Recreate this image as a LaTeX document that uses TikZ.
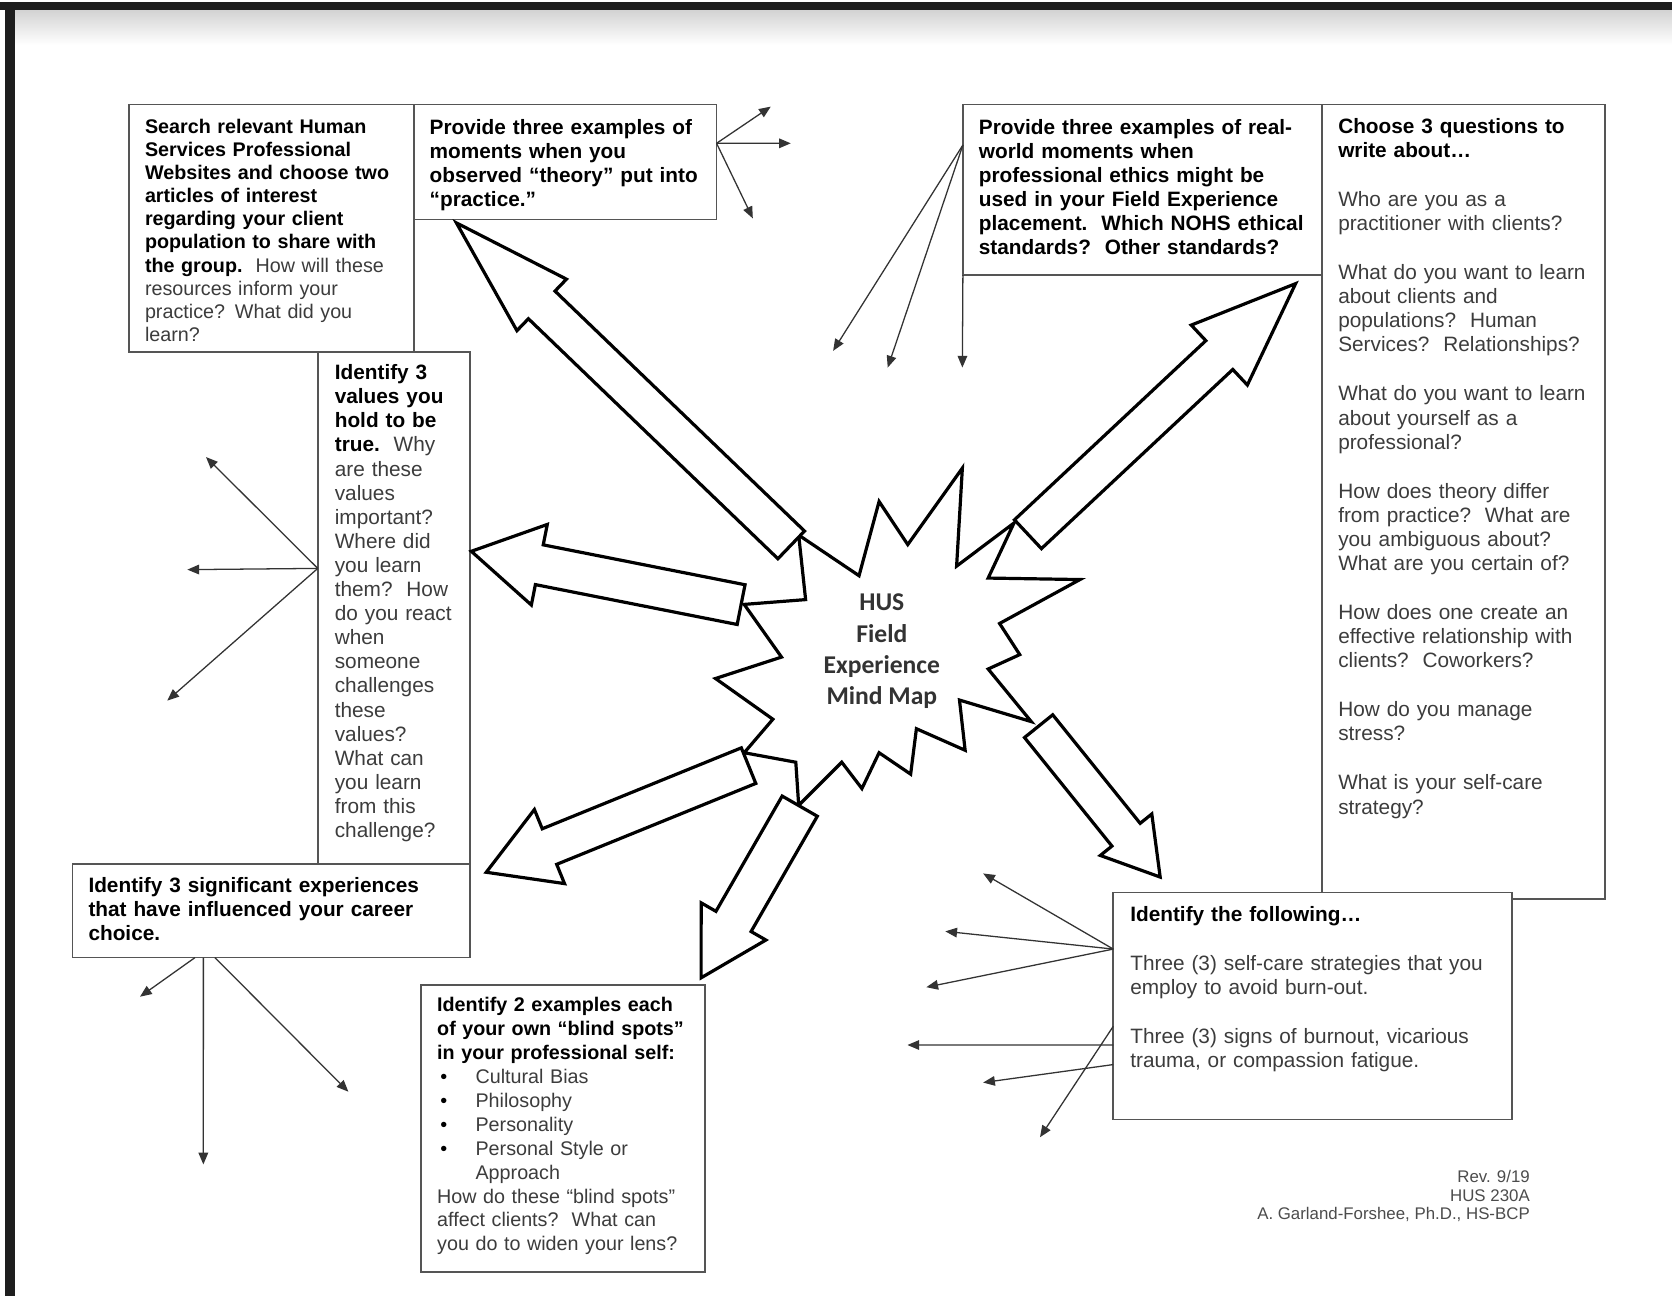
\documentclass[tikz,border=0pt]{standalone}
\usepackage{fontspec}
\setmainfont{Liberation Sans}
\newfontfamily\calibri{Carlito}
\usetikzlibrary{calc,arrows.meta}
\definecolor{txtgray}{HTML}{3C3C3C}
\definecolor{boxgray}{HTML}{555555}
\definecolor{linegray}{HTML}{333333}
\definecolor{framedark}{HTML}{1E1E1E}
\newcommand\fontA{\fontsize{9.25}{10.85}\selectfont}
\newcommand\fontB{\fontsize{9.75}{11.3}\selectfont}
\newcommand\fontE{\fontsize{9.25}{11.2}\selectfont}
\newcommand\bul{\makebox[18pt][l]{\hspace{1.5pt}\textcolor{black}{•}}}
\newcommand\blockarrow[5]{%
  \coordinate (ba-n) at ($(#2)!#5!(#1)$);
  \draw[bigarrow] ($(#1)!#3!90:(#2)$) -- ($(ba-n)!#3!90:(#2)$) -- ($(ba-n)!#4!90:(#2)$) -- (#2)
     -- ($(ba-n)!#4!-90:(#2)$) -- ($(ba-n)!#3!-90:(#2)$) -- ($(#1)!#3!-90:(#2)$) -- cycle;
}
\begin{document}
\begin{tikzpicture}[x=0.5pt,y=-0.5pt,
  box/.style={draw=boxgray, line width=0.75pt, fill=white, inner sep=0pt, outer sep=0pt, anchor=north west},
  txt/.style={anchor=base west, inner sep=0pt, outer sep=0pt, align=left, text=txtgray, font=\fontB},
  bigarrow/.style={draw=black, line width=1.5pt, fill=white, line join=miter, miter limit=10},
  thin/.style={draw=linegray, line width=0.6pt, -{Triangle[length=5.5pt,width=4.5pt]}},
  starstyle/.style={draw=black, line width=1.5pt, fill=white, line join=miter, miter limit=20}]
% page
\fill[white] (0,0) rectangle (1568,1215);
\useasboundingbox (0,0) rectangle (1568,1215);
\shade[top color=gray!35, bottom color=white] (14,9) rectangle (1568,42);
\fill[framedark] (0,2) rectangle (1568,9);
\fill[framedark] (5,2) rectangle (14,1215);

% boxes
\node[box, minimum width=133.5pt, minimum height=116pt] (A) at (121,98) {};
\node[box, minimum width=142pt, minimum height=54pt] (B) at (388,98) {};
\node[box, minimum width=71.5pt, minimum height=240pt] (C) at (298,330) {};
\node[box, minimum width=186.5pt, minimum height=44pt] (D) at (68,810) {};
\node[box, minimum width=133pt, minimum height=134.5pt] (E) at (395,924) {};
\node[box, minimum width=168.5pt, minimum height=80pt] (F) at (903,98) {};
\node[box, minimum width=132.5pt, minimum height=372.5pt] (G) at (1240,98) {};
\node[box, minimum width=187pt, minimum height=106.5pt] (H) at (1044,837) {};

% texts
\node[txt, font=\fontA, text width=140pt] (tA) at (136,125) {{\bfseries\color{black}Search relevant Human\\ Services Professional\\ Websites and choose two\\ articles of interest\\ regarding your client\\ population to share with\\ the group.}\ \ How will these\\ resources inform your\\ practice? What did you\\ learn?};
\node[txt, text width=150pt] (tB) at (403,126) {{\bfseries\color{black}Provide three examples of\\ moments when you\\ observed “theory” put into\\ “practice.”}};
\node[txt, text width=80pt] (tC) at (314,356) {{\bfseries\color{black}Identify 3\\ values you\\ hold to be\\ true.}\ \ Why\\ are these\\ values\\ important?\\ Where did\\ you learn\\ them?\ \ How\\ do you react\\ when\\ someone\\ challenges\\ these\\ values?\\ What can\\ you learn\\ from this\\ challenge?};
\node[txt, text width=190pt] (tD) at (83,837) {{\bfseries\color{black}Identify 3 significant experiences\\ that have influenced your career\\ choice.}};
\node[txt, font=\fontE, text width=140pt] (tE) at (410,949) {{\bfseries\color{black}Identify 2 examples each\\ of your own “blind spots”\\ in your professional self:}\\ \bul Cultural Bias\\ \bul Philosophy\\ \bul Personality\\ \bul Personal Style or\\ \hspace*{18pt}Approach\\ How do these “blind spots”\\ affect clients?\ \ What can\\ you do to widen your lens?};
\node[txt, text width=175pt] (tF) at (918,126) {{\bfseries\color{black}Provide three examples of real-\\ world moments when\\ professional ethics might be\\ used in your Field Experience\\ placement.\ \ Which NOHS ethical\\ standards?\ \ Other standards?}};
\node[txt, text width=140pt] (tG) at (1255,125) {{\bfseries\color{black}Choose 3 questions to\\ write about…}\\[11.7pt]
Who are you as a\\ practitioner with clients?\\[11.7pt]
What do you want to learn\\ about clients and\\ populations?\ \ Human\\ Services?\ \ Relationships?\\[11.7pt]
What do you want to learn\\ about yourself as a\\ professional?\\[11.7pt]
How does theory differ\\ from practice?\ \ What are\\ you ambiguous about?\\ What are you certain of?\\[11.7pt]
How does one create an\\ effective relationship with\\ clients?\ \ Coworkers?\\[11.7pt]
How do you manage\\ stress?\\[11.7pt]
What is your self-care\\ strategy?};
\node[txt, text width=190pt] (tH) at (1060,864) {{\bfseries\color{black}Identify the following…}\\[11.7pt]
Three (3) self-care strategies that you\\ employ to avoid burn-out.\\[11.7pt]
Three (3) signs of burnout, vicarious\\ trauma, or compassion fatigue.};
\node[anchor=north east, align=right, inner sep=0pt, font=\fontsize{7.9}{8.75}\selectfont, text=black!70] (foot) at (1435,1097) {Rev. 9/19\\HUS 230A\\A. Garland-Forshee, Ph.D., HS-BCP};

% star
\draw[starstyle] (902.5,439) -- (897.1,530.9) -- (950.9,490.5) -- (926.7,542.1) -- (1012.8,543.5)
  -- (937.4,584.7) -- (956.3,613.9) -- (926.7,627.4) -- (967.1,676.7) -- (899.8,656.5)
  -- (905.1,703.6) -- (859.4,683.4) -- (854,726) -- (824.4,705.9) -- (808.3,739.5)
  -- (789.4,714.8) -- (749,755.2) -- (746.3,714.8) -- (697.9,705.9) -- (724.8,674.5)
  -- (671,636.3) -- (732.9,616.2) -- (697.9,566.8) -- (755.5,562.3) -- (749,501.8)
  -- (805.6,539.9) -- (824.4,470.3) -- (851.3,510.7) -- cycle;
\node[font=\calibri\bfseries\fontsize{12}{14.7}\selectfont, align=center, text=black!80, inner sep=0pt] (star) at (827,611) {HUS\\Field\\Experience\\Mind Map};

% block arrows
\coordinate (nwB) at (742,511);  \coordinate (nwT) at (428,209);
\coordinate (neB) at (964,501);  \coordinate (neT) at (1215,266);
\coordinate (wB) at (695,567);   \coordinate (wT) at (442,517);
\coordinate (swB) at (702,718);  \coordinate (swT) at (456,818);
\coordinate (ssB) at (750,756);  \coordinate (ssT) at (657.5,917);
\coordinate (seB) at (974,681);  \coordinate (seT) at (1088,822.5);
\blockarrow{nwB}{nwT}{9pt}{16.75pt}{55.5pt}
\blockarrow{neB}{neT}{9.25pt}{19.25pt}{49pt}
\blockarrow{wB}{wT}{9.5pt}{19.25pt}{32.5pt}
\blockarrow{swB}{swT}{9pt}{18.75pt}{32pt}
\blockarrow{ssB}{ssT}{9.5pt}{17.5pt}{30.5pt}
\blockarrow{seB}{seT}{8.5pt}{15.5pt}{25.5pt}

% thin connectors
\coordinate (Bo) at ($(B.north east)!0.337!(B.south east)$);
\coordinate (b1) at (722.8,100); \coordinate (b2) at (741.6,134.4); \coordinate (b3) at (706,204.8);
\draw[thin] (Bo) -- (b1); \draw[thin] (Bo) -- (b2); \draw[thin] (Bo) -- (b3);

\coordinate (Fo) at ($(F.north west)!0.2375!(F.south west)$);
\coordinate (f1) at (781.3,329); \coordinate (f2) at (832.5,344.7); \coordinate (f3) at (902.5,344.7);
\draw[thin] (Fo) -- (f1); \draw[thin] (Fo) -- (f2); \draw[thin] (F.south west) -- (f3);

\coordinate (Co) at ($(C.north west)!0.423!(C.south west)$);
\coordinate (c1) at (193.2,428.6); \coordinate (c2) at (175.7,534.2); \coordinate (c3) at (156.9,657);
\draw[thin] (Co) -- (c1); \draw[thin] (Co) -- (c2); \draw[thin] (Co) -- (c3);

\coordinate (Do1) at ($(D.south west)!0.308!(D.south east)$);
\coordinate (Do2) at ($(D.south west)!0.329!(D.south east)$);
\coordinate (Do3) at ($(D.south west)!0.358!(D.south east)$);
\coordinate (d1) at (131.3,934.7); \coordinate (d2) at (190.7,1092); \coordinate (d3) at (326.7,1023.8);
\draw[thin] (Do1) -- (d1); \draw[thin] (Do2) -- (d2); \draw[thin] (Do3) -- (d3);

\coordinate (Ho1) at ($(H.north west)!0.249!(H.south west)$);
\coordinate (Ho2) at ($(H.north west)!0.589!(H.south west)$);
\coordinate (Ho3) at ($(H.north west)!0.6714!(H.south west)$);
\coordinate (Ho4) at ($(H.north west)!0.7575!(H.south west)$);
\coordinate (h1) at (922,819.1); \coordinate (h2) at (886.5,873.4); \coordinate (h3) at (868.7,925.8);
\coordinate (h4) at (975.3,1066.5); \coordinate (h5) at (851,980); \coordinate (h6) at (922,1015.2);
\draw[thin] (Ho1) -- (h1); \draw[thin] (Ho1) -- (h2); \draw[thin] (Ho1) -- (h3);
\draw[thin] (Ho2) -- (h4); \draw[thin] (Ho3) -- (h5); \draw[thin] (Ho4) -- (h6);
\end{tikzpicture}
\end{document}
